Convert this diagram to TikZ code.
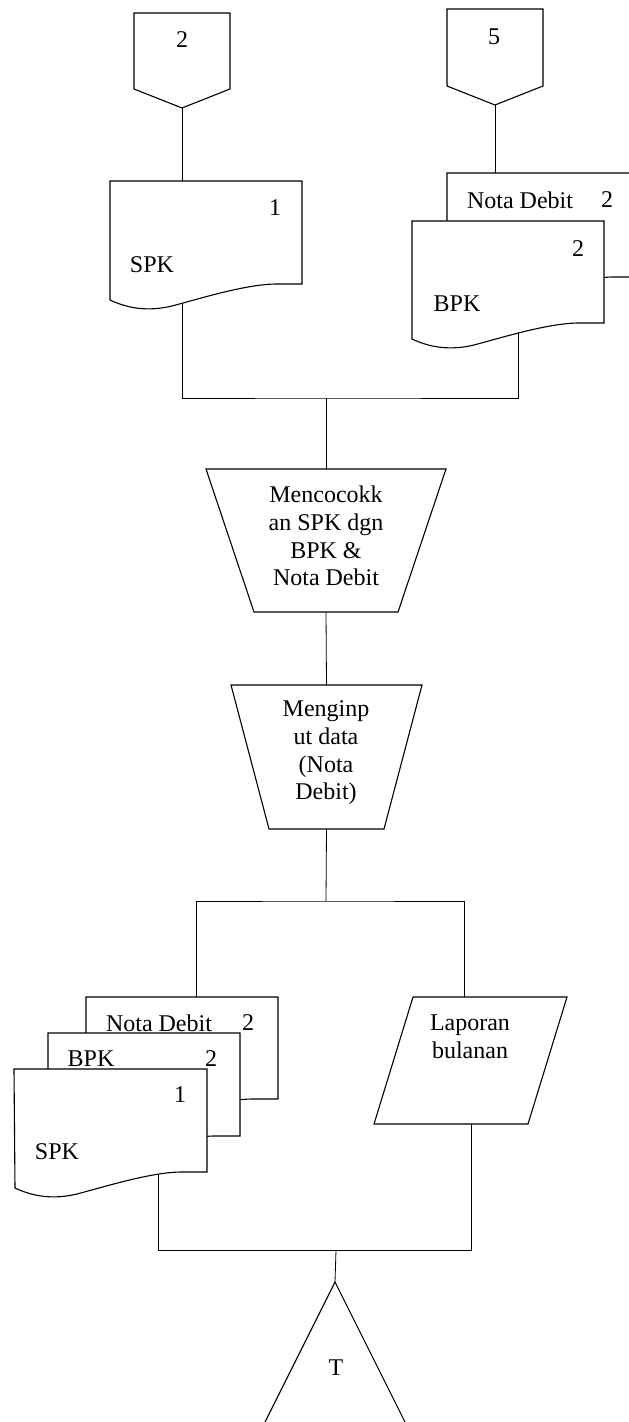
\documentclass[tikz,border=0pt]{standalone}
\usepackage{fontspec}
\setmainfont{Liberation Serif}
\usetikzlibrary{calc,backgrounds}

% wavy-bottom document outline on an invisible box node
\newcommand{\docoutline}[1]{%
  \draw[shapeline] (#1.north west) -- (#1.north east) -- (#1.south east)
    -- ($(#1.south east)+(-25,0)$)
    .. controls ($(#1.south east)+(-55,0)$) and ($(#1.south east)+(-100,14)$)
    .. ($(#1.south east)+(-130,22)$)
    .. controls ($(#1.south east)+(-155,28)$) and ($(#1.south east)+(-175,24)$)
    .. ($(#1.south east)+(-192,16)$) -- cycle;}
% manual operation: wide top, narrow bottom
\newcommand{\trapoutline}[2]{%
  \draw[shapeline] (#1.north west) -- (#1.north east)
    -- ($(#1.south east)+(-#2,0)$) -- ($(#1.south west)+(#2,0)$) -- cycle;}
% off-page connector pointing down
\newcommand{\offpage}[2]{%
  \draw[shapeline] (#1.north west) -- (#1.north east) -- (#1.south east)
    -- (#2) -- (#1.south west) -- cycle;}

\begin{document}
\begin{tikzpicture}[x=0.5pt,y=-0.5pt,
  line width=0.55pt,
  every node/.style={font=\fontsize{12}{13.8}\selectfont},
  box/.style={rectangle,draw=none,inner sep=0pt,outer sep=0pt,anchor=north west},
  docbox/.style={box,minimum width=96pt,minimum height=51.5pt},
  shapeline/.style={draw=black,fill=white,line join=miter},
  lbl/.style={inner sep=0pt,align=center},
  wire/.style={draw=black}]
\useasboundingbox (0,0) rectangle (628,1422);

% off-page connectors
\node[box,minimum width=48pt,minimum height=38pt] (c2) at (134,13) {};
\coordinate (c2tip) at ($(c2.south)+(0,19)$);
\offpage{c2}{c2tip}
\node[lbl] (c2t) at (182,40) {2};

\node[box,minimum width=48pt,minimum height=38.5pt] (c5) at (447,9) {};
\coordinate (c5tip) at ($(c5.south)+(0,19)$);
\offpage{c5}{c5tip}
\node[lbl] (c5t) at (494,37) {5};

% incoming documents
\node[docbox] (spk1) at (110,181) {};
\docoutline{spk1}
\node[lbl] (spk1n) at (275,208) {1};
\node[lbl] (spk1t) at (152,265) {SPK};

\node[docbox,minimum height=52pt] (nd1) at (447,173) {};
\docoutline{nd1}
\node[lbl] (nd1t) at (520,200) {Nota Debit};
\node[lbl] (nd1n) at (607,200) {2};

\node[docbox,minimum height=51pt] (bpk1) at (412,221) {};
\docoutline{bpk1}
\node[lbl] (bpk1n) at (578,249) {2};
\node[lbl] (bpk1t) at (457,304) {BPK};

% manual operations
\node[box,minimum width=120pt,minimum height=71.5pt] (trap1) at (206,469) {};
\trapoutline{trap1}{48}
\node[lbl] (trap1t) at (326,536) {Mencocokk\\an SPK dgn\\BPK \&\\Nota Debit};

\node[box,minimum width=95.5pt,minimum height=72pt] (trap2) at (231,685) {};
\trapoutline{trap2}{38}
\node[lbl] (trap2t) at (326,753) {Menginp\\ut data\\(Nota\\Debit)};

% output documents
\node[docbox,minimum height=51pt] (nd2) at (86,997) {};
\docoutline{nd2}
\node[lbl] (nd2t) at (159,1023) {Nota Debit};
\node[lbl] (nd2n) at (248,1023) {2};

\node[docbox] (bpk2) at (48,1033) {};
\docoutline{bpk2}
\node[lbl] (bpk2t) at (91,1059) {BPK};
\node[lbl] (bpk2n) at (211,1059) {2};

\node[docbox,minimum width=96.5pt] (spk2) at (14,1069) {};
\docoutline{spk2}
\node[lbl] (spk2n) at (180,1095) {1};
\node[lbl] (spk2t) at (57,1152) {SPK};

% report (parallelogram)
\node[box,minimum width=96.5pt,minimum height=63.5pt] (lap) at (374,997) {};
\draw[shapeline] ($(lap.north west)+(39,0)$) -- (lap.north east)
  -- ($(lap.south east)+(-39,0)$) -- (lap.south west) -- cycle;
\node[lbl] (lapt) at (470,1037) {Laporan\\bulanan};

% archive (triangle)
\coordinate (tapex) at (335,1282);
\node[lbl] (tri) at (336,1368) {T};
\draw[shapeline,fill=none] ($(tapex)+(-80,160)$) -- (tapex) -- ($(tapex)+(80,160)$);

% junction points
\coordinate (j1) at (326,398);
\coordinate (j2) at (326,901);
\coordinate (j3) at (336,1250);

\begin{pgfonlayer}{background}
  \draw[wire] (c2tip) -- (c2tip |- spk1.north);
  \draw[wire] (c5tip) -- (c5tip |- nd1.north);
  \draw[wire] ($(spk1.south west)+(72,0)$) |- (j1) -| ($(bpk1.south west)+(106,0)$);
  \draw[wire] (j1) -- (trap1.north);
  \draw[wire] (trap1.south) -- (trap2.north);
  \draw[wire] (trap2.south) -- (j2);
  \draw[wire] ($(nd2.north west)+(110,0)$) |- (j2) -| ($(lap.north west)+(90,0)$);
  \draw[wire] ($(spk2.south west)+(144,0)$) |- (j3) -| ($(lap.south west)+(97,0)$);
  \draw[wire] (j3) -- (tapex);
\end{pgfonlayer}
\end{tikzpicture}
\end{document}
